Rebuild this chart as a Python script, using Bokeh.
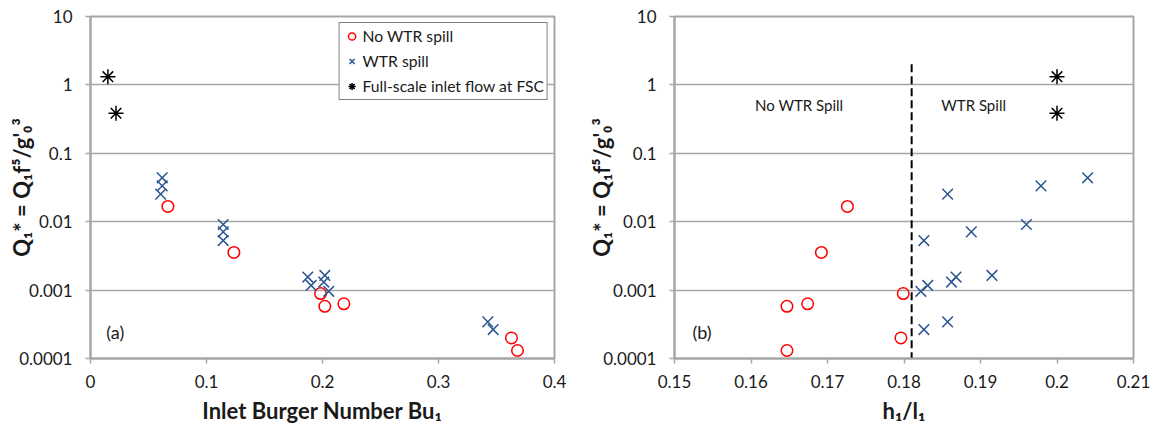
from bokeh.plotting import figure
from bokeh.layouts import row
from bokeh.models import FixedTicker, CustomJSTickFormatter, Legend, LegendItem
from bokeh.core.properties import value
from bokeh.embed import file_html
from bokeh.resources import INLINE

# ---------------- data ----------------
nospill_bu = [0.0667, 0.1236, 0.1983, 0.2020, 0.2184, 0.3629, 0.3681]
nospill_hl = [0.1726, 0.1692, 0.1799, 0.1647, 0.1674, 0.1796, 0.1647]
nospill_q = [0.0167, 0.00355, 0.00089, 0.00058, 0.00063, 0.00020, 0.000131]

spill_bu = [0.0618, 0.0618, 0.0605, 0.1144, 0.1144, 0.1144, 0.2020, 0.1873,
            0.2011, 0.1902, 0.2054, 0.3425, 0.3471]
spill_hl = [0.2040, 0.1979, 0.1857, 0.1960, 0.1888, 0.1826, 0.1915, 0.1868,
            0.1862, 0.1831, 0.1822, 0.1857, 0.1826]
spill_q = [0.0438, 0.0334, 0.0253, 0.0091, 0.0071, 0.0053, 0.00164, 0.00155,
           0.00131, 0.00117, 0.00096, 0.000343, 0.000265]

fsc_bu = [0.0150, 0.0220]
fsc_hl = [0.200, 0.200]
fsc_q = [1.32, 0.385]

spill_threshold = 0.181
threshold_top = 2.0

x_ticks_a = [0, 0.1, 0.2, 0.3, 0.4]
x_ticks_b = [0.15, 0.16, 0.17, 0.18, 0.19, 0.2, 0.21]
y_ticks = [0.0001, 0.001, 0.01, 0.1, 1, 10]

region_text = ["No WTR Spill", "WTR Spill"]
region_x = [0.1663, 0.1891]
region_y = [0.50, 0.50]

panel_a_text = ["(a)"]
panel_a_x = [0.0214]
panel_b_text = ["(b)"]
panel_b_x = [0.1536]
panel_y = [0.000245]

legend_labels = ["No WTR spill", "WTR spill", "Full-scale inlet flow at FSC"]

# ---------------- styling ----------------
FONT = "Lato"
GRAY = "#a6a6a6"
BLUE = "#2b5592"
RED = "#ff0000"
TXT = "#1a1a1a"
YLABEL = "Q\u2081* = Q\u2081f\u2075/g'\u2080\u00b3"

fmt = CustomJSTickFormatter(code="return Number(tick.toFixed(4)).toString();")


def make_fig(width, xr, xticks, xlabel, border_left, border_right, label_standoff):
    p = figure(width=width, height=434, x_range=xr, y_range=(1e-4, 10),
               y_axis_type="log", output_backend="svg", toolbar_location=None,
               min_border_left=border_left, min_border_right=border_right,
               min_border_top=16, min_border_bottom=76)
    p.background_fill_color = "white"
    p.border_fill_color = "white"
    p.outline_line_color = GRAY
    p.outline_line_width = 2
    p.xgrid.visible = False
    p.ygrid.grid_line_color = GRAY
    p.ygrid.grid_line_width = 1.5
    p.ygrid.ticker = FixedTicker(ticks=y_ticks)
    for ax in (p.xaxis[0], p.yaxis[0]):
        ax.axis_line_color = GRAY
        ax.axis_line_width = 2
        ax.major_tick_line_color = GRAY
        ax.major_tick_line_width = 1.5
        ax.major_tick_out = 5
        ax.major_tick_in = 0
        ax.minor_tick_line_color = None
        ax.major_label_text_font = FONT
        ax.major_label_text_font_size = "17px"
        ax.major_label_text_color = TXT
        ax.axis_label_text_font = FONT
        ax.axis_label_text_font_size = "22px"
        ax.axis_label_text_font_style = "bold"
        ax.axis_label_text_color = TXT
        ax.formatter = fmt
    p.xaxis.ticker = FixedTicker(ticks=xticks)
    p.yaxis.ticker = FixedTicker(ticks=y_ticks)
    p.xaxis.major_label_standoff = 11
    p.yaxis.major_label_standoff = 13
    p.xaxis.axis_label = xlabel
    p.xaxis.axis_label_standoff = 6
    p.yaxis.axis_label = YLABEL
    p.yaxis.axis_label_standoff = label_standoff
    return p


def add_points(p, xs_nospill, xs_spill, xs_fsc):
    r1 = p.scatter(xs_nospill, nospill_q, marker="circle", size=11.5,
                   fill_color=None, line_color=RED, line_width=1.5)
    r2 = p.scatter(xs_spill, spill_q, marker="x", size=15,
                   line_color=BLUE, line_width=1.5)
    r3 = p.scatter(xs_fsc, fsc_q, marker="asterisk", size=15,
                   line_color="black", line_width=1.5)
    return r1, r2, r3


# ---------------- panel (a) ----------------
p1 = make_fig(580, (0, 0.4), x_ticks_a, "Inlet Burger Number Bu\u2081", 90, 26, -19)
r1, r2, r3 = add_points(p1, nospill_bu, spill_bu, fsc_bu)
p1.text(panel_a_x, panel_y, text=panel_a_text, text_font=value(FONT),
        text_font_size="18px", text_align="center", text_baseline="middle",
        text_color=TXT)

legend = Legend(items=[LegendItem(label=legend_labels[0], renderers=[r1]),
                       LegendItem(label=legend_labels[1], renderers=[r2]),
                       LegendItem(label=legend_labels[2], renderers=[r3])],
                location="top_right")
legend.margin = 6
legend.padding = 3
legend.spacing = 5
legend.glyph_width = 18
legend.glyph_height = 20
legend.label_height = 20
legend.label_standoff = 2
legend.label_text_font = FONT
legend.label_text_font_size = "15.7px"
legend.label_text_color = TXT
legend.border_line_color = "black"
legend.border_line_width = 1.5
legend.background_fill_alpha = 1
p1.add_layout(legend)

# ---------------- panel (b) ----------------
p2 = make_fig(578, (0.15, 0.21), x_ticks_b, "h\u2081/l\u2081", 94, 25, -15)
add_points(p2, nospill_hl, spill_hl, fsc_hl)
p2.segment(x0=[spill_threshold], y0=[threshold_top], x1=[spill_threshold], y1=[1e-4],
           line_color="black", line_width=2, line_dash="8 4")
p2.text(region_x, region_y, text=region_text, text_font=value(FONT),
        text_font_size="15px", text_align="center", text_baseline="middle",
        text_color=TXT)
p2.text(panel_b_x, panel_y, text=panel_b_text, text_font=value(FONT),
        text_font_size="18px", text_align="center", text_baseline="middle",
        text_color=TXT)

layout = row(p1, p2)
open("out.html", "w").write(file_html(layout, INLINE))
